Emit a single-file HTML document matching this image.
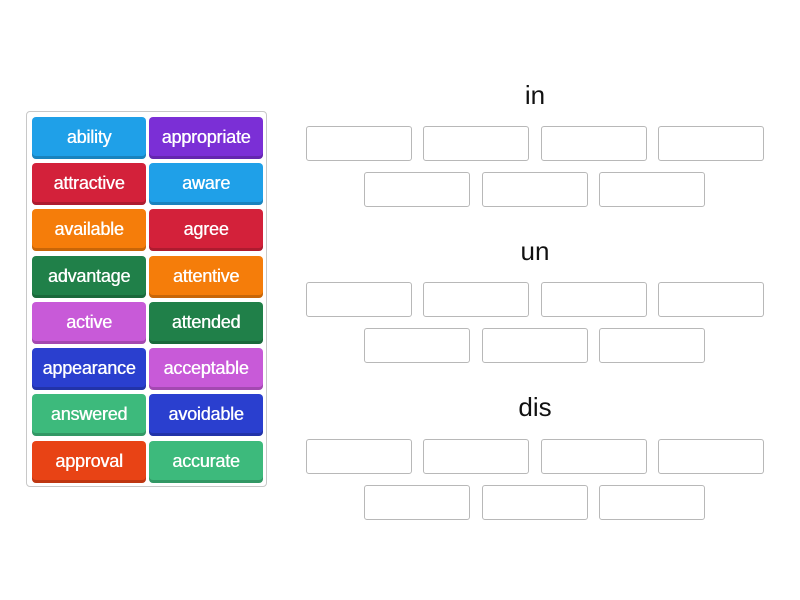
<!DOCTYPE html>
<html><head><style>
body{margin:0;width:800px;height:600px;background:#fff;position:relative;font-family:"Liberation Sans",sans-serif;overflow:hidden}
.panel{position:absolute;left:26px;top:111px;width:241px;height:376px;border:1px solid #c8c8c8;border-radius:4px;box-sizing:border-box}
.t{position:absolute;width:114px;height:42px;border-radius:4px;color:#fff;font-size:18px;line-height:40px;text-align:center;box-shadow:inset 0 -3px 0 rgba(0,0,0,0.18);letter-spacing:-0.2px;text-shadow:0.4px 0 0 #fff}
.s{position:absolute;width:106px;height:35px;border:1px solid #b8b8b8;border-radius:3px;box-sizing:border-box}
.h{position:absolute;width:100px;left:485px;text-align:center;font-size:26px;color:#111}
</style></head><body>
<div class="panel"></div>
<div class="t" style="left:32px;top:117px;background:#1fa0e8">ability</div>
<div class="t" style="left:149px;top:117px;background:#7b2fd6">appropriate</div>
<div class="t" style="left:32px;top:163px;background:#d3213a">attractive</div>
<div class="t" style="left:149px;top:163px;background:#1fa0e8">aware</div>
<div class="t" style="left:32px;top:209px;background:#f57d0a">available</div>
<div class="t" style="left:149px;top:209px;background:#d3213a">agree</div>
<div class="t" style="left:32px;top:256px;background:#208049">advantage</div>
<div class="t" style="left:149px;top:256px;background:#f57d0a">attentive</div>
<div class="t" style="left:32px;top:302px;background:#c85ad8">active</div>
<div class="t" style="left:149px;top:302px;background:#208049">attended</div>
<div class="t" style="left:32px;top:348px;background:#2a3fcf">appearance</div>
<div class="t" style="left:149px;top:348px;background:#c85ad8">acceptable</div>
<div class="t" style="left:32px;top:394px;background:#3dba7c">answered</div>
<div class="t" style="left:149px;top:394px;background:#2a3fcf">avoidable</div>
<div class="t" style="left:32px;top:441px;background:#e84315">approval</div>
<div class="t" style="left:149px;top:441px;background:#3dba7c">accurate</div>

<div class="h" style="top:80px">in</div>
<div class="s" style="left:306px;top:126px"></div><div class="s" style="left:423px;top:126px"></div><div class="s" style="left:541px;top:126px"></div><div class="s" style="left:658px;top:126px"></div>
<div class="s" style="left:364px;top:172px"></div><div class="s" style="left:482px;top:172px"></div><div class="s" style="left:599px;top:172px"></div>

<div class="h" style="top:236px">un</div>
<div class="s" style="left:306px;top:282px"></div><div class="s" style="left:423px;top:282px"></div><div class="s" style="left:541px;top:282px"></div><div class="s" style="left:658px;top:282px"></div>
<div class="s" style="left:364px;top:328px"></div><div class="s" style="left:482px;top:328px"></div><div class="s" style="left:599px;top:328px"></div>

<div class="h" style="top:392px">dis</div>
<div class="s" style="left:306px;top:439px"></div><div class="s" style="left:423px;top:439px"></div><div class="s" style="left:541px;top:439px"></div><div class="s" style="left:658px;top:439px"></div>
<div class="s" style="left:364px;top:485px"></div><div class="s" style="left:482px;top:485px"></div><div class="s" style="left:599px;top:485px"></div>
</body></html>
